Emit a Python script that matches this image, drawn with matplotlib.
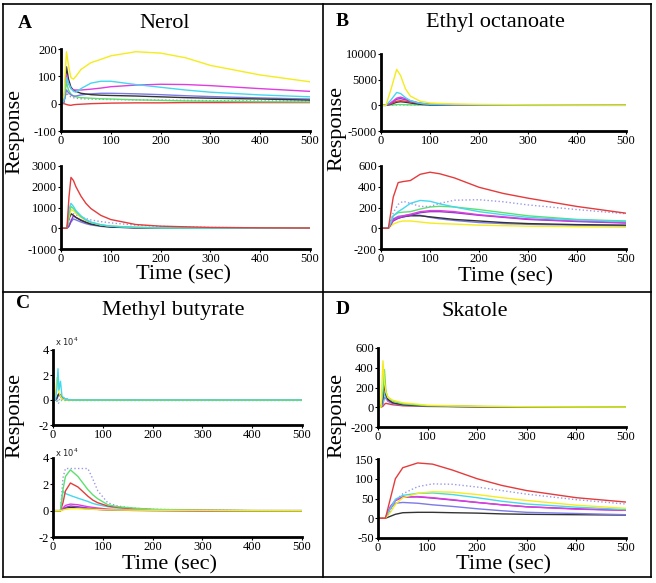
import matplotlib
matplotlib.use("Agg")
import matplotlib.pyplot as plt
from matplotlib.lines import Line2D

plt.rcParams.update({
    "font.family": "Liberation Serif",
    "font.size": 9,
    "xtick.labelsize": 9,
    "ytick.labelsize": 9,
})

W, H = 656, 583

COLORS = {
    "yellow": "#f4ec1c",
    "cyan": "#44d8ee",
    "magenta": "#e03ce0",
    "red": "#e53b3b",
    "green": "#5ce070",
    "black": "#333333",
    "purple": "#8a3cc8",
    "blue": "#7a7ae8",
    "lavender": "#9a9ae6",
    "gray": "#9a9a9a",
}
DOTTED = {"lavender", "gray"}

# ---- Panel A: Nerol ----
A_TOP_T = [0, 6, 11, 15, 20, 25, 30, 40, 60, 80, 100, 150, 200, 250, 300, 400, 500]
A_TOP = {
    "gray": [0, 3, 40, 30, 25, 22, 20, 18, 17, 16, 15, 14, 13, 12, 11, 10, 9],
    "red": [0, 0, -3, -5, -6, -4, -3, -2, 0, 1, 2, 3, 3, 4, 4, 4, 4],
    "green": [0, 5, 80, 50, 35, 28, 25, 22, 20, 18, 17, 14, 12, 10, 9, 7, 6],
    "blue": [0, 5, 50, 40, 32, 28, 28, 32, 36, 38, 38, 36, 33, 29, 26, 21, 17],
    "black": [0, 10, 135, 90, 60, 50, 45, 38, 33, 31, 30, 28, 25, 22, 20, 17, 13],
    "magenta": [0, 10, 105, 75, 55, 50, 50, 50, 53, 57, 62, 68, 71, 70, 66, 55, 45],
    "cyan": [0, 10, 95, 75, 55, 45, 42, 55, 75, 82, 82, 70, 60, 50, 42, 32, 25],
    "yellow": [0, 30, 190, 140, 95, 90, 100, 125, 150, 162, 175, 190, 185, 168, 140, 105, 80],
}
A_BOT_T = [0, 12, 16, 20, 25, 30, 40, 50, 60, 80, 100, 150, 200, 300, 400, 500]
A_BOT = {
    "lavender": [0, 0, 300, 650, 700, 650, 550, 470, 400, 320, 260, 150, 90, 40, 20, 10],
    "blue": [0, 0, 100, 300, 450, 400, 300, 220, 160, 90, 50, 20, 10, 5, 0, 0],
    "purple": [0, 0, 100, 350, 600, 520, 400, 300, 220, 130, 80, 30, 15, 5, 0, 0],
    "black": [0, 0, 450, 700, 620, 520, 380, 280, 200, 110, 60, 20, 10, 5, 0, 0],
    "yellow": [0, 0, 500, 900, 850, 720, 520, 380, 280, 160, 100, 50, 30, 15, 10, 5],
    "green": [0, 0, 700, 1050, 950, 800, 560, 400, 280, 160, 100, 40, 20, 10, 5, 0],
    "cyan": [0, 0, 900, 1200, 1050, 850, 600, 420, 300, 170, 100, 40, 20, 10, 5, 0],
    "red": [0, 0, 1500, 2450, 2300, 2000, 1550, 1200, 950, 620, 420, 180, 100, 40, 20, 10],
}

# ---- Panel B: Ethyl octanoate ----
B_TOP_T = [0, 10, 20, 32, 40, 50, 60, 80, 100, 150, 200, 300, 400, 500]
B_TOP = {
    "lavender": [0, 0, 20, 60, 80, 80, 80, 80, 80, 80, 70, 50, 40, 30],
    "green": [0, 0, 50, 150, 150, 120, 100, 60, 40, 20, 10, 5, 0, 0],
    "black": [0, 0, 200, 600, 700, 600, 450, 200, 80, 30, 10, 0, 0, 0],
    "red": [0, 0, 300, 800, 900, 800, 650, 400, 250, 150, 100, 60, 40, 30],
    "purple": [0, 0, 400, 1200, 1300, 1100, 800, 350, 150, 80, 50, 30, 20, 10],
    "magenta": [0, 0, 500, 1400, 1600, 1300, 900, 400, 200, 100, 60, 40, 30, 20],
    "cyan": [0, 0, 1000, 2500, 2300, 1500, 900, 400, 200, 120, 80, 50, 30, 20],
    "yellow": [0, 0, 3000, 7000, 5800, 3200, 1800, 800, 450, 250, 180, 100, 60, 30],
}
B_BOT_T = [0, 15, 25, 35, 45, 60, 80, 100, 120, 150, 200, 250, 300, 400, 500]
B_BOT = {
    "yellow": [0, 0, 40, 60, 70, 70, 60, 50, 45, 40, 30, 25, 20, 15, 10],
    "blue": [0, 0, 90, 115, 120, 130, 125, 105, 90, 75, 55, 45, 38, 30, 25],
    "black": [0, 0, 80, 100, 110, 120, 120, 110, 100, 85, 70, 55, 45, 35, 30],
    "purple": [0, 0, 70, 95, 110, 125, 150, 160, 160, 150, 125, 105, 85, 65, 50],
    "magenta": [0, 0, 80, 105, 120, 135, 160, 170, 170, 160, 130, 110, 90, 70, 55],
    "green": [0, 0, 120, 150, 155, 160, 185, 205, 212, 205, 180, 150, 120, 85, 70],
    "cyan": [0, 0, 120, 160, 190, 240, 268, 260, 235, 205, 160, 130, 105, 80, 65],
    "lavender": [0, 0, 150, 230, 260, 240, 210, 210, 240, 270, 275, 255, 225, 180, 140],
    "red": [0, 0, 300, 440, 450, 460, 520, 540, 525, 485, 395, 335, 290, 210, 145],
}

# ---- Panel C: Methyl butyrate (values in units of 1e4) ----
C_TOP_T = [0, 5, 8, 10, 12, 15, 18, 25, 40, 100, 200, 300, 400, 500]
C_TOP = {
    "lavender": [0, 0, -0.1, -0.3, -0.2, 0.5, 0.3, 0.1, 0, 0, 0, 0, 0, 0],
    "purple": [0, 0, 0.1, 0.3, 0.5, 0.3, 0.1, 0, 0, 0, 0, 0, 0, 0],
    "black": [0, 0, 0.2, 0.4, 0.5, 0.4, 0.2, 0.05, 0, 0, 0, 0, 0, 0],
    "yellow": [0, 0.5, 1.8, 1.2, 0.6, 0.3, 0.1, 0, 0, 0, 0, 0, 0, 0],
    "cyan": [0, 0, 1.0, 2.5, 0.8, 1.5, 0.3, 0.05, 0, 0, 0, 0, 0, 0],
    "green": [0, 0, 0, 0, 0, 0, 0, 0, 0, 0, 0, 0, 0, 0],
}
C_BOT_T = [0, 15, 20, 25, 35, 50, 70, 80, 90, 110, 130, 160, 200, 300, 400, 500]
C_BOT = {
    "lavender": [0, 0, 2.5, 3.2, 3.2, 3.2, 3.2, 2.4, 1.5, 0.6, 0.35, 0.2, 0.1, 0.05, 0, 0],
    "black": [0, 0, 0.1, 0.2, 0.25, 0.2, 0.15, 0.12, 0.1, 0.06, 0.04, 0.02, 0.01, 0, 0, 0],
    "purple": [0, 0, 0.1, 0.25, 0.35, 0.3, 0.2, 0.15, 0.1, 0.07, 0.05, 0.03, 0.02, 0, 0, 0],
    "magenta": [0, 0, 0.2, 0.4, 0.5, 0.45, 0.3, 0.25, 0.2, 0.12, 0.08, 0.05, 0.03, 0, 0, 0],
    "cyan": [0, 0, 1.5, 1.3, 1.15, 0.95, 0.7, 0.55, 0.45, 0.3, 0.2, 0.15, 0.08, 0.03, 0, 0],
    "red": [0, 0, 0.6, 1.5, 2.1, 1.8, 1.1, 0.8, 0.6, 0.35, 0.25, 0.15, 0.08, 0.03, 0, 0],
    "green": [0, 0, 1.6, 2.6, 3.1, 2.6, 1.6, 1.2, 0.9, 0.45, 0.3, 0.2, 0.1, 0.03, 0, 0],
    "yellow": [0, 0, 0.05, 0.1, 0.15, 0.15, 0.12, 0.1, 0.08, 0.06, 0.05, 0.04, 0.03, 0.02, 0.01, 0],
}

# ---- Panel D: Skatole ----
D_TOP_T = [0, 6, 10, 13, 16, 20, 30, 50, 100, 200, 300, 400, 500]
D_TOP = {
    "red": [0, 0, 10, 30, 40, 35, 25, 15, 8, 5, 3, 2, 1],
    "blue": [0, 0, 30, 100, 90, 60, 35, 20, 10, 5, 3, 2, 1],
    "cyan": [0, 0, 50, 150, 100, 70, 40, 25, 12, 6, 4, 2, 2],
    "magenta": [0, 0, 80, 270, 120, 70, 40, 25, 12, 6, 4, 2, 2],
    "black": [0, 0, 100, 250, 130, 80, 45, 25, 12, 6, 4, 2, 2],
    "green": [0, 0, 150, 380, 160, 100, 60, 35, 15, 8, 5, 3, 2],
    "yellow": [0, 0, 470, 250, 150, 100, 70, 45, 20, 10, 5, 3, 2],
}
D_BOT_T = [0, 15, 25, 35, 50, 80, 110, 150, 200, 250, 300, 400, 500]
D_BOT = {
    "black": [0, 0, 5, 10, 14, 15, 15, 14, 13, 11, 10, 9, 8],
    "blue": [0, 0, 25, 38, 40, 38, 34, 30, 24, 19, 15, 12, 9],
    "purple": [0, 0, 28, 45, 54, 54, 51, 46, 40, 34, 29, 24, 20],
    "magenta": [0, 0, 30, 45, 53, 55, 52, 47, 40, 34, 29, 23, 20],
    "cyan": [0, 0, 25, 48, 58, 63, 64, 60, 52, 43, 36, 28, 22],
    "yellow": [0, 0, 15, 35, 52, 63, 67, 66, 60, 52, 45, 33, 25],
    "lavender": [0, 0, 20, 45, 62, 80, 87, 86, 79, 70, 61, 47, 36],
    "red": [0, 0, 50, 100, 128, 140, 137, 122, 100, 83, 70, 52, 41],
}

PANELS = [
    # letter, title, letter_xy, title_xy, ylabel_xy, xlabel_xy
    ("A", "Nerol", (25, 23), (165, 24), (15, 131), (183, 275)),
    ("B", "Ethyl octanoate", (342, 21), (495, 22), (337, 128), (506, 277)),
    ("C", "Methyl butyrate", (23, 303), (173, 311), (15, 416), (170, 565)),
    ("D", "Skatole", (343, 309), (475, 311), (337, 415), (504, 565)),
]

# axes rectangles in pixels: (left, top, right, bottom)
SUBPLOTS = [
    ((61, 49, 310, 131), A_TOP_T, A_TOP, (-100, 200), [-100, 0, 100, 200]),
    ((61, 166, 310, 249), A_BOT_T, A_BOT, (-1000, 3000), [-1000, 0, 1000, 2000, 3000]),
    ((381, 54, 626, 131), B_TOP_T, B_TOP, (-5000, 10000), [-5000, 0, 5000, 10000]),
    ((381, 166, 626, 249), B_BOT_T, B_BOT, (-200, 600), [-200, 0, 200, 400, 600]),
    ((53, 350, 302, 425), C_TOP_T, C_TOP, (-2, 4), [-2, 0, 2, 4]),
    ((53, 458, 302, 537), C_BOT_T, C_BOT, (-2, 4), [-2, 0, 2, 4]),
    ((378, 348, 626, 427), D_TOP_T, D_TOP, (-200, 600), [-200, 0, 200, 400, 600]),
    ((378, 459, 626, 538), D_BOT_T, D_BOT, (-50, 150), [-50, 0, 50, 100, 150]),
]


def fx(x):
    return x / W


def fy(y):
    return 1 - y / H


fig = plt.figure(figsize=(W / 100, H / 100), dpi=100)

for (l, t, r, b), times, curves, ylim, yticks in SUBPLOTS:
    ax = fig.add_axes([fx(l), fy(b), (r - l) / W, (b - t) / H])
    for name, vals in curves.items():
        ls = ":" if name in DOTTED else "-"
        if name == "green" and curves is C_TOP:
            ls = ":"
        ax.plot(times, vals, color=COLORS[name], linestyle=ls, linewidth=1.0)
    ax.set_xlim(0, 500)
    ax.set_ylim(*ylim)
    ax.set_xticks([0, 100, 200, 300, 400, 500])
    ax.set_yticks(yticks)
    ax.set_yticklabels([str(v) for v in yticks])
    for side in ("top", "right"):
        ax.spines[side].set_visible(False)
    for side in ("left", "bottom"):
        ax.spines[side].set_linewidth(2.0)
    ax.tick_params(direction="out", length=2, width=0.8, pad=1)
    ax.patch.set_alpha(0)

# "x 10^4" multiplier labels for panel C
for y in (342, 453):
    fig.text(fx(55), fy(y), r"x 10$^4$", fontsize=6, family="DejaVu Sans",
             ha="left", va="center", color="#222222")

for letter, title, lxy, txy, yxy, xxy in PANELS:
    fig.text(fx(lxy[0]), fy(lxy[1]), letter, fontsize=14, fontweight="bold",
             ha="center", va="center")
    fig.text(fx(txy[0]), fy(txy[1]), title, fontsize=16, ha="center", va="center")
    fig.text(fx(yxy[0]), fy(yxy[1]), "Response", fontsize=16, rotation=90,
             ha="center", va="center")
    fig.text(fx(xxy[0]), fy(xxy[1]), "Time (sec)", fontsize=16,
             ha="center", va="center")

# panel frame and dividers
frame = [
    ((3, 651), (4, 4)), ((3, 651), (577, 577)), ((3, 3), (4, 577)),
    ((651, 651), (4, 577)), ((323, 323), (4, 577)), ((3, 651), (292, 292)),
]
for xs, ys in frame:
    fig.add_artist(Line2D([fx(v) for v in xs], [fy(v) for v in ys],
                          color="black", linewidth=1.2))

fig.savefig("out.png", dpi=100)
